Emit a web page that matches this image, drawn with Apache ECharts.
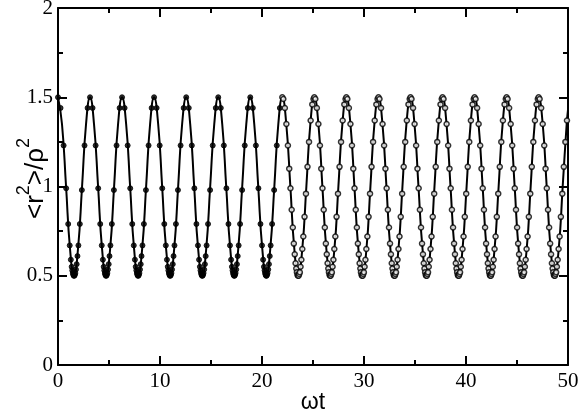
<!DOCTYPE html>
<html>
<head>
<meta charset="utf-8">
<script src="https://cdn.jsdelivr.net/npm/echarts@6.0.0/dist/echarts.min.js"></script>
<style>
  html, body { margin: 0; padding: 0; background: #fff; }
  #main { width: 581px; height: 410px; }
</style>
</head>
<body>
<div id="main"></div>
<script>
// solid curve (peaks 1.5, troughs 0.5, period ~pi)
const lineT = [
  0, 0.39, 0.79, 1.18, 1.57, 1.96, 2.36, 2.75,
  3.14, 3.53, 3.93, 4.32, 4.71, 5.11, 5.50, 5.89,
  6.28, 6.68, 7.07, 7.46, 7.85, 8.25, 8.64, 9.03,
  9.42, 9.82, 10.21, 10.60, 11.00, 11.39, 11.78, 12.17,
  12.57, 12.96, 13.35, 13.74, 14.14, 14.53, 14.92, 15.32,
  15.71, 16.10, 16.49, 16.89, 17.28, 17.67, 18.06, 18.46,
  18.85, 19.24, 19.63, 20.03, 20.42, 20.81, 21.21, 21.60,
  21.99, 22.38, 22.78, 23.17, 23.56, 23.95, 24.35, 24.74,
  25.13, 25.53, 25.92, 26.31, 26.70, 27.10, 27.49, 27.88,
  28.27, 28.67, 29.06, 29.45, 29.85, 30.24, 30.63, 31.02,
  31.42, 31.81, 32.20, 32.59, 32.99, 33.38, 33.77, 34.16,
  34.56, 34.95, 35.34, 35.74, 36.13, 36.52, 36.91, 37.31,
  37.70, 38.09, 38.48, 38.88, 39.27, 39.66, 40.06, 40.45,
  40.84, 41.23, 41.63, 42.02, 42.41, 42.80, 43.20, 43.59,
  43.98, 44.37, 44.77, 45.16, 45.55, 45.95, 46.34, 46.73,
  47.12, 47.52, 47.91, 48.30, 48.69, 49.09, 49.48, 49.87, 50
]
const lineR = [
  1.5, 1.35, 1.0, 0.65, 0.5, 0.65, 1.0, 1.35,
  1.5, 1.35, 1.0, 0.65, 0.5, 0.65, 1.0, 1.35,
  1.5, 1.35, 1.0, 0.65, 0.5, 0.65, 1.0, 1.35,
  1.5, 1.35, 1.0, 0.65, 0.5, 0.65, 1.0, 1.35,
  1.5, 1.35, 1.0, 0.65, 0.5, 0.65, 1.0, 1.35,
  1.5, 1.35, 1.0, 0.65, 0.5, 0.65, 1.0, 1.35,
  1.5, 1.35, 1.0, 0.65, 0.5, 0.65, 1.0, 1.35,
  1.5, 1.35, 1.0, 0.65, 0.5, 0.65, 1.0, 1.35,
  1.5, 1.35, 1.0, 0.65, 0.5, 0.65, 1.0, 1.35,
  1.5, 1.35, 1.0, 0.65, 0.5, 0.65, 1.0, 1.35,
  1.5, 1.35, 1.0, 0.65, 0.5, 0.65, 1.0, 1.35,
  1.5, 1.35, 1.0, 0.65, 0.5, 0.65, 1.0, 1.35,
  1.5, 1.35, 1.0, 0.65, 0.5, 0.65, 1.0, 1.35,
  1.5, 1.35, 1.0, 0.65, 0.5, 0.65, 1.0, 1.35,
  1.5, 1.35, 1.0, 0.65, 0.5, 0.65, 1.0, 1.35,
  1.5, 1.35, 1.0, 0.65, 0.5, 0.65, 1.0, 1.35, 1.43
]

// simulation points, early times (drawn filled)
const dotT1 = [
  0, 0.25, 0.55, 0.80, 1.00, 1.15, 1.26, 1.34, 1.40, 1.45, 1.50, 1.55, 1.60, 1.65, 1.70, 1.76, 1.83, 1.91, 2.00, 2.14, 2.34, 2.60, 2.90,
  3.14, 3.39, 3.69, 3.94, 4.14, 4.29, 4.40, 4.48, 4.54, 4.59, 4.64, 4.69, 4.74, 4.79, 4.84, 4.90, 4.97, 5.05, 5.14, 5.28, 5.48, 5.74, 6.04,
  6.28, 6.53, 6.83, 7.08, 7.28, 7.43, 7.54, 7.62, 7.68, 7.73, 7.78, 7.83, 7.88, 7.93, 7.98, 8.04, 8.11, 8.19, 8.28, 8.42, 8.62, 8.88, 9.18,
  9.42, 9.67, 9.97, 10.22, 10.42, 10.57, 10.68, 10.76, 10.82, 10.87, 10.92, 10.97, 11.02, 11.07, 11.12, 11.18, 11.25, 11.33, 11.42, 11.56, 11.76, 12.02, 12.32,
  12.57, 12.82, 13.12, 13.37, 13.57, 13.72, 13.83, 13.91, 13.97, 14.02, 14.07, 14.12, 14.17, 14.22, 14.27, 14.33, 14.40, 14.48, 14.57, 14.71, 14.91, 15.17, 15.47,
  15.71, 15.96, 16.26, 16.51, 16.71, 16.86, 16.97, 17.05, 17.11, 17.16, 17.21, 17.26, 17.31, 17.36, 17.41, 17.47, 17.54, 17.62, 17.71, 17.85, 18.05, 18.31, 18.61,
  18.85, 19.10, 19.40, 19.65, 19.85, 20.00, 20.11, 20.19, 20.25, 20.30, 20.35, 20.40, 20.45, 20.50, 20.55, 20.61, 20.68, 20.76, 20.85, 20.99, 21.19, 21.45, 21.75
]
const dotR1 = [
  1.50, 1.44, 1.23, 0.99, 0.79, 0.67, 0.59, 0.55, 0.53, 0.515, 0.505, 0.50, 0.50, 0.505, 0.515, 0.535, 0.565, 0.61, 0.67, 0.79, 0.98, 1.23, 1.44,
  1.50, 1.44, 1.23, 0.99, 0.79, 0.67, 0.59, 0.55, 0.53, 0.515, 0.505, 0.50, 0.50, 0.505, 0.515, 0.535, 0.565, 0.61, 0.67, 0.79, 0.98, 1.23, 1.44,
  1.50, 1.44, 1.23, 0.99, 0.79, 0.67, 0.59, 0.55, 0.53, 0.515, 0.505, 0.50, 0.50, 0.505, 0.515, 0.535, 0.565, 0.61, 0.67, 0.79, 0.98, 1.23, 1.44,
  1.50, 1.44, 1.23, 0.99, 0.79, 0.67, 0.59, 0.55, 0.53, 0.515, 0.505, 0.50, 0.50, 0.505, 0.515, 0.535, 0.565, 0.61, 0.67, 0.79, 0.98, 1.23, 1.44,
  1.50, 1.44, 1.23, 0.99, 0.79, 0.67, 0.59, 0.55, 0.53, 0.515, 0.505, 0.50, 0.50, 0.505, 0.515, 0.535, 0.565, 0.61, 0.67, 0.79, 0.98, 1.23, 1.44,
  1.50, 1.44, 1.23, 0.99, 0.79, 0.67, 0.59, 0.55, 0.53, 0.515, 0.505, 0.50, 0.50, 0.505, 0.515, 0.535, 0.565, 0.61, 0.67, 0.79, 0.98, 1.23, 1.44,
  1.50, 1.44, 1.23, 0.99, 0.79, 0.67, 0.59, 0.55, 0.53, 0.515, 0.505, 0.50, 0.50, 0.505, 0.515, 0.535, 0.565, 0.61, 0.67, 0.79, 0.98, 1.23, 1.44
]

// simulation points, later times (drawn open)
const dotT2 = [
  21.99, 22.09, 22.24, 22.39, 22.54, 22.67, 22.79, 22.91, 23.02, 23.12, 23.21, 23.29, 23.36, 23.42, 23.48, 23.53, 23.59, 23.65, 23.71, 23.78, 23.86, 23.95, 24.05, 24.17, 24.31, 24.46, 24.61, 24.77, 24.93, 25.05,
  25.13, 25.23, 25.38, 25.53, 25.68, 25.81, 25.93, 26.05, 26.16, 26.26, 26.35, 26.43, 26.50, 26.56, 26.62, 26.67, 26.73, 26.79, 26.85, 26.92, 27.00, 27.09, 27.19, 27.31, 27.45, 27.60, 27.75, 27.91, 28.07, 28.19,
  28.27, 28.37, 28.52, 28.67, 28.82, 28.95, 29.07, 29.19, 29.30, 29.40, 29.49, 29.57, 29.64, 29.70, 29.76, 29.81, 29.87, 29.93, 29.99, 30.06, 30.14, 30.23, 30.33, 30.45, 30.59, 30.74, 30.89, 31.05, 31.21, 31.33,
  31.42, 31.52, 31.67, 31.82, 31.97, 32.10, 32.22, 32.34, 32.45, 32.55, 32.64, 32.72, 32.79, 32.85, 32.91, 32.96, 33.02, 33.08, 33.14, 33.21, 33.29, 33.38, 33.48, 33.60, 33.74, 33.89, 34.04, 34.20, 34.36, 34.48,
  34.56, 34.66, 34.81, 34.96, 35.11, 35.24, 35.36, 35.48, 35.59, 35.69, 35.78, 35.86, 35.93, 35.99, 36.05, 36.10, 36.16, 36.22, 36.28, 36.35, 36.43, 36.52, 36.62, 36.74, 36.88, 37.03, 37.18, 37.34, 37.50, 37.62,
  37.70, 37.80, 37.95, 38.10, 38.25, 38.38, 38.50, 38.62, 38.73, 38.83, 38.92, 39.00, 39.07, 39.13, 39.19, 39.24, 39.30, 39.36, 39.42, 39.49, 39.57, 39.66, 39.76, 39.88, 40.02, 40.17, 40.32, 40.48, 40.64, 40.76,
  40.84, 40.94, 41.09, 41.24, 41.39, 41.52, 41.64, 41.76, 41.87, 41.97, 42.06, 42.14, 42.21, 42.27, 42.33, 42.38, 42.44, 42.50, 42.56, 42.63, 42.71, 42.80, 42.90, 43.02, 43.16, 43.31, 43.46, 43.62, 43.78, 43.90,
  43.98, 44.08, 44.23, 44.38, 44.53, 44.66, 44.78, 44.90, 45.01, 45.11, 45.20, 45.28, 45.35, 45.41, 45.47, 45.52, 45.58, 45.64, 45.70, 45.77, 45.85, 45.94, 46.04, 46.16, 46.30, 46.45, 46.60, 46.76, 46.92, 47.04,
  47.12, 47.22, 47.37, 47.52, 47.67, 47.80, 47.92, 48.04, 48.15, 48.25, 48.34, 48.42, 48.49, 48.55, 48.61, 48.66, 48.72, 48.78, 48.84, 48.91, 48.99, 49.08, 49.18, 49.30, 49.44, 49.59, 49.74, 49.90
]
const dotR2 = [
  1.50, 1.49, 1.44, 1.35, 1.23, 1.10, 0.99, 0.87, 0.77, 0.68, 0.62, 0.57, 0.54, 0.52, 0.505, 0.50, 0.50, 0.51, 0.52, 0.55, 0.59, 0.65, 0.72, 0.83, 0.96, 1.11, 1.25, 1.37, 1.46, 1.49,
  1.50, 1.49, 1.44, 1.35, 1.23, 1.10, 0.99, 0.87, 0.77, 0.68, 0.62, 0.57, 0.54, 0.52, 0.505, 0.50, 0.50, 0.51, 0.52, 0.55, 0.59, 0.65, 0.72, 0.83, 0.96, 1.11, 1.25, 1.37, 1.46, 1.49,
  1.50, 1.49, 1.44, 1.35, 1.23, 1.10, 0.99, 0.87, 0.77, 0.68, 0.62, 0.57, 0.54, 0.52, 0.505, 0.50, 0.50, 0.51, 0.52, 0.55, 0.59, 0.65, 0.72, 0.83, 0.96, 1.11, 1.25, 1.37, 1.46, 1.49,
  1.50, 1.49, 1.44, 1.35, 1.23, 1.10, 0.99, 0.87, 0.77, 0.68, 0.62, 0.57, 0.54, 0.52, 0.505, 0.50, 0.50, 0.51, 0.52, 0.55, 0.59, 0.65, 0.72, 0.83, 0.96, 1.11, 1.25, 1.37, 1.46, 1.49,
  1.50, 1.49, 1.44, 1.35, 1.23, 1.10, 0.99, 0.87, 0.77, 0.68, 0.62, 0.57, 0.54, 0.52, 0.505, 0.50, 0.50, 0.51, 0.52, 0.55, 0.59, 0.65, 0.72, 0.83, 0.96, 1.11, 1.25, 1.37, 1.46, 1.49,
  1.50, 1.49, 1.44, 1.35, 1.23, 1.10, 0.99, 0.87, 0.77, 0.68, 0.62, 0.57, 0.54, 0.52, 0.505, 0.50, 0.50, 0.51, 0.52, 0.55, 0.59, 0.65, 0.72, 0.83, 0.96, 1.11, 1.25, 1.37, 1.46, 1.49,
  1.50, 1.49, 1.44, 1.35, 1.23, 1.10, 0.99, 0.87, 0.77, 0.68, 0.62, 0.57, 0.54, 0.52, 0.505, 0.50, 0.50, 0.51, 0.52, 0.55, 0.59, 0.65, 0.72, 0.83, 0.96, 1.11, 1.25, 1.37, 1.46, 1.49,
  1.50, 1.49, 1.44, 1.35, 1.23, 1.10, 0.99, 0.87, 0.77, 0.68, 0.62, 0.57, 0.54, 0.52, 0.505, 0.50, 0.50, 0.51, 0.52, 0.55, 0.59, 0.65, 0.72, 0.83, 0.96, 1.11, 1.25, 1.37, 1.46, 1.49,
  1.50, 1.49, 1.44, 1.35, 1.23, 1.10, 0.99, 0.87, 0.77, 0.68, 0.62, 0.57, 0.54, 0.52, 0.505, 0.50, 0.50, 0.51, 0.52, 0.55, 0.59, 0.65, 0.72, 0.83, 0.96, 1.11, 1.25, 1.37
]

const xTicks = [0, 10, 20, 30, 40, 50]
const yTicks = [0, 0.5, 1, 1.5, 2]

const myChart = echarts.init(document.getElementById('main'))

const pairs = (xs, ys) => xs.map((x, i) => [x, ys[i]])

const serif = '"Liberation Serif", "DejaVu Serif", serif'
const sans = '"Liberation Sans", Arial, sans-serif'
const tickFont = { fontFamily: serif, fontSize: 21, color: '#000' }

function frameAxis(extra) {
    return Object.assign({
        type: 'value',
        nameMoveOverlap: false,
        axisLine: { show: true, onZero: false, lineStyle: { color: '#000', width: 2 } },
        axisTick: { show: true, inside: true, length: 9, lineStyle: { color: '#000', width: 2 } },
        minorTick: { show: true, splitNumber: 2, length: 5, lineStyle: { color: '#000', width: 2 } },
        splitLine: { show: false },
        minorSplitLine: { show: false },
    }, extra)
}

const option = {
    animation: false,
    backgroundColor: '#fff',
    grid: { left: 58, right: 13, top: 8, bottom: 45, containLabel: false, outerBoundsMode: 'none' },
    xAxis: [
        frameAxis({
            position: 'bottom', min: xTicks[0], max: xTicks[xTicks.length - 1], interval: 10,
            axisLabel: Object.assign({ margin: 6 }, tickFont),
            name: 'ωt', nameLocation: 'middle', nameGap: 26,
            nameTextStyle: { fontFamily: sans, fontSize: 23, color: '#000' },
        }),
        frameAxis({
            position: 'top', min: xTicks[0], max: xTicks[xTicks.length - 1], interval: 10,
            axisLabel: { show: false },
        }),
    ],
    yAxis: [
        frameAxis({
            position: 'left', min: yTicks[0], max: yTicks[yTicks.length - 1], interval: 0.5,
            axisLabel: Object.assign({ margin: 5 }, tickFont),
            // leading blank token nudges the rotated title upward
            name: '{g| }{m|<r}{s|2}{m|>/ρ}{s|2}', nameLocation: 'middle', nameRotate: 90, nameGap: 9,
            nameTextStyle: {
                rich: {
                    g: { fontFamily: sans, fontSize: 10, width: 16, lineHeight: 34 },
                    m: { fontFamily: sans, fontSize: 26, color: '#000', lineHeight: 34, verticalAlign: 'bottom' },
                    s: { fontFamily: sans, fontSize: 18, color: '#000', lineHeight: 34, verticalAlign: 'top' },
                },
            },
        }),
        frameAxis({
            position: 'right', min: yTicks[0], max: yTicks[yTicks.length - 1], interval: 0.5,
            axisLabel: { show: false },
        }),
    ],
    series: [
        {
            type: 'line',
            data: pairs(lineT, lineR),
            smooth: 0.5,
            showSymbol: false,
            lineStyle: { color: '#000', width: 2 },
            z: 2,
        },
        {
            type: 'scatter',
            data: pairs(dotT1, dotR1),
            symbol: 'circle',
            symbolSize: 5,
            itemStyle: { color: '#000', borderColor: '#000', borderWidth: 1 },
            z: 3,
        },
        {
            type: 'scatter',
            data: pairs(dotT2, dotR2),
            symbol: 'circle',
            symbolSize: 5,
            itemStyle: { color: '#fff', borderColor: '#000', borderWidth: 1.5 },
            z: 3,
        },
    ],
}

myChart.setOption(option)
</script>
</body>
</html>
